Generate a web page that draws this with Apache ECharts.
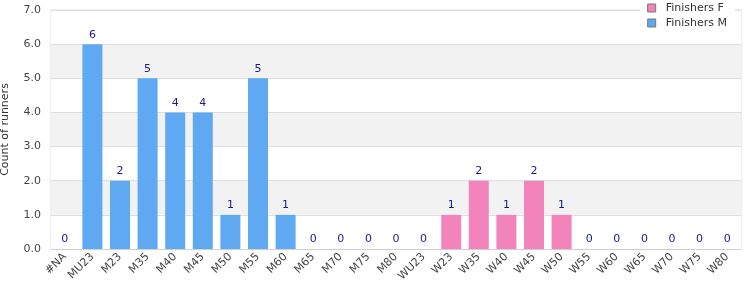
<!DOCTYPE html>
<html>
<head>
<meta charset="utf-8">
<script src="https://cdn.jsdelivr.net/npm/echarts@6/dist/echarts.min.js"></script>
<style>
  html, body { margin: 0; padding: 0; background: #fff; }
  #chart { width: 750px; height: 300px; }
</style>
</head>
<body>
<div id="chart"></div>
<script>
const categories = ['#NA', 'MU23', 'M23', 'M35', 'M40', 'M45', 'M50', 'M55', 'M60', 'M65', 'M70', 'M75', 'M80',
  'WU23', 'W23', 'W35', 'W40', 'W45', 'W50', 'W55', 'W60', 'W65', 'W70', 'W75', 'W80']
// null where the category belongs to the other group
const finishersM = [0, 6, 2, 5, 4, 4, 1, 5, 1, 0, 0, 0, 0,
  null, null, null, null, null, null, null, null, null, null, null, null]
const finishersF = [null, null, null, null, null, null, null, null, null, null, null, null, null,
  0, 1, 2, 1, 2, 1, 0, 0, 0, 0, 0, 0]

const chart = echarts.init(document.getElementById('chart'))
const labelStyle = {
  show: true,
  position: 'top',
  color: '#1a1a8a',
  fontFamily: 'DejaVu Sans',
  fontSize: 11,
  distance: 4
}
chart.setOption({
  animation: false,
  textStyle: { fontFamily: 'DejaVu Sans' },
  grid: {
    left: 51,
    right: 9,
    top: 10,
    bottom: 51,
    outerBoundsMode: 'none',
    show: true,
    borderColor: '#dcdcdc',
    borderWidth: 1
  },
  legend: {
    orient: 'vertical',
    right: 15,
    top: 0,
    itemGap: 3,
    itemWidth: 8,
    itemHeight: 8,
    padding: [2, 8, 3, 7],
    backgroundColor: '#fff',
    icon: 'rect',
    textStyle: { color: '#333', fontSize: 11, lineHeight: 12, padding: [0, 0, 0, 5], fontFamily: 'DejaVu Sans' },
    data: [
      { name: 'Finishers F', itemStyle: { borderColor: '#777', borderWidth: 1 } },
      { name: 'Finishers M', itemStyle: { borderColor: '#777', borderWidth: 1 } }
    ]
  },
  xAxis: {
    type: 'category',
    data: categories,
    axisLine: { lineStyle: { color: '#d0d0d0' } },
    axisTick: { show: false },
    axisLabel: {
      rotate: 45,
      interval: 0,
      color: '#444',
      fontSize: 11,
      margin: 6
    }
  },
  yAxis: {
    type: 'value',
    min: 0,
    max: 7,
    interval: 1,
    name: 'Count of runners',
    nameLocation: 'middle',
    nameGap: 40,
    nameTextStyle: { color: '#333', fontSize: 11 },
    axisLine: { show: false },
    axisTick: { show: false },
    axisLabel: {
      color: '#444',
      fontSize: 11,
      margin: 10,
      formatter: (v) => v.toFixed(1)
    },
    splitLine: { lineStyle: { color: '#dedede' } },
    splitArea: { show: true, areaStyle: { color: ['#ffffff', '#f2f2f2'] } }
  },
  series: [
    {
      name: 'Finishers F',
      type: 'bar',
      stack: 'all',
      barWidth: 20,
      itemStyle: { color: '#f383bb' },
      label: labelStyle,
      data: finishersF
    },
    {
      name: 'Finishers M',
      type: 'bar',
      stack: 'all',
      barWidth: 20,
      itemStyle: { color: '#5fa9f3' },
      label: labelStyle,
      data: finishersM
    }
  ]
})
</script>
</body>
</html>
